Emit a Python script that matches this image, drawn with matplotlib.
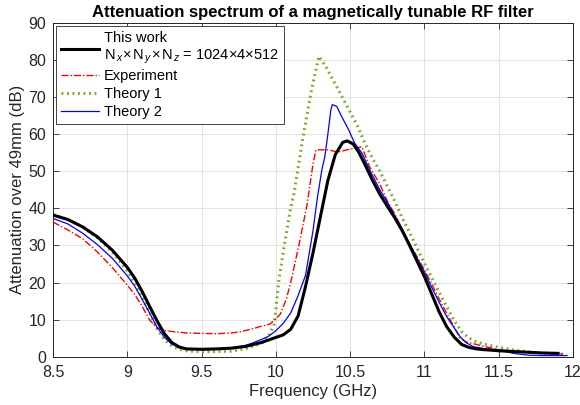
import matplotlib
matplotlib.use("Agg")
import matplotlib.pyplot as plt

plt.rcParams['font.family'] = ['Liberation Sans', 'DejaVu Sans']
plt.rcParams['mathtext.fontset'] = 'custom'
plt.rcParams['mathtext.rm'] = 'Liberation Sans'
plt.rcParams['mathtext.it'] = 'Liberation Sans:italic'

# ---- data ----
f_work = [8.50, 8.60, 8.70, 8.80, 8.90, 9.00, 9.05, 9.10, 9.15, 9.20, 9.25, 9.30, 9.35, 9.40,
          9.50, 9.60, 9.70, 9.80, 9.90, 9.95, 10.00, 10.05, 10.10, 10.15, 10.20, 10.25, 10.30,
          10.35, 10.40, 10.45, 10.48, 10.52, 10.56, 10.60, 10.65, 10.70, 10.75, 10.80, 10.85,
          10.90, 10.95, 11.00, 11.05, 11.10, 11.15, 11.20, 11.25, 11.30, 11.35, 11.40, 11.50,
          11.60, 11.70, 11.80, 11.90]
a_work = [38.2, 37.0, 35.0, 32.3, 28.7, 24.1, 21.2, 17.6, 13.6, 9.7, 6.2, 3.8, 2.6, 2.1,
          2.0, 2.1, 2.3, 2.8, 3.8, 4.5, 5.2, 5.9, 7.4, 11.0, 19.0, 28.0, 37.8,
          47.5, 54.5, 57.8, 58.2, 57.4, 55.0, 51.8, 47.6, 43.8, 40.6, 37.5, 34.0,
          30.0, 25.8, 21.6, 16.8, 12.0, 8.1, 5.3, 3.3, 2.5, 2.1, 1.9, 1.6,
          1.4, 1.2, 1.0, 0.9]

f_exp = [8.50, 8.60, 8.70, 8.80, 8.90, 9.00, 9.05, 9.10, 9.15, 9.20, 9.25, 9.30, 9.40, 9.50,
         9.60, 9.70, 9.76, 9.85, 9.90, 9.96, 10.00, 10.03, 10.07, 10.10, 10.13, 10.16, 10.21,
         10.25, 10.27, 10.35, 10.42, 10.50, 10.58, 10.63, 10.70, 10.75, 10.80, 10.85, 10.90,
         10.95, 11.00, 11.05, 11.10, 11.15, 11.20, 11.24, 11.28, 11.33, 11.40, 11.50, 11.60,
         11.70, 11.80, 11.93]
a_exp = [36.3, 34.2, 31.8, 28.2, 24.0, 19.3, 16.8, 13.6, 9.9, 7.8, 7.1, 6.8, 6.4, 6.3,
         6.2, 6.4, 6.7, 7.6, 8.2, 8.8, 10.2, 11.5, 15.5, 20.0, 25.5, 31.0, 41.0,
         52.0, 55.8, 55.8, 55.2, 56.0, 56.6, 51.3, 46.5, 42.0, 38.5, 34.5, 30.5,
         27.0, 23.4, 19.5, 15.5, 11.7, 8.0, 5.0, 4.0, 3.5, 2.8, 1.9, 1.4,
         1.1, 0.9, 0.7]

f_th1 = [8.50, 8.60, 8.70, 8.80, 8.90, 9.00, 9.05, 9.10, 9.15, 9.20, 9.25, 9.30, 9.35, 9.40,
         9.50, 9.60, 9.70, 9.80, 9.90, 9.95, 9.99, 10.02, 10.055, 10.10, 10.12, 10.18, 10.24,
         10.29, 10.34, 10.40, 10.45, 10.50, 10.55, 10.60, 10.65, 10.70, 10.75, 10.80, 10.85,
         10.90, 10.95, 11.00, 11.05, 11.10, 11.15, 11.20, 11.25, 11.30, 11.35, 11.40, 11.50,
         11.60, 11.70, 11.80, 11.90, 11.96]
a_th1 = [38.4, 37.0, 35.0, 32.0, 28.2, 23.1, 20.0, 16.0, 11.8, 7.5, 4.6, 2.9, 2.0, 1.6,
         1.3, 1.4, 1.5, 2.2, 3.5, 5.4, 8.9, 20.5, 29.5, 40.3, 43.5, 58.5, 72.0,
         81.0, 78.0, 73.5, 69.8, 66.0, 62.2, 57.5, 53.5, 50.0, 46.0, 42.0, 37.5,
         33.5, 29.3, 25.2, 21.2, 17.3, 13.5, 9.8, 6.8, 5.0, 4.0, 3.4, 2.5,
         1.8, 1.3, 0.9, 0.8, 0.6]

f_th2 = [8.50, 8.60, 8.70, 8.80, 8.90, 9.00, 9.05, 9.10, 9.15, 9.20, 9.25, 9.30, 9.35, 9.40,
         9.50, 9.60, 9.70, 9.80, 9.85, 9.90, 9.95, 10.00, 10.05, 10.10, 10.15, 10.20, 10.25,
         10.28, 10.31, 10.33, 10.35, 10.37, 10.38, 10.41, 10.44, 10.49, 10.53, 10.58, 10.63,
         10.70, 10.76, 10.80, 10.85, 10.90, 10.95, 11.00, 11.05, 11.10, 11.15, 11.20, 11.24,
         11.28, 11.33, 11.40, 11.50, 11.60, 11.70, 11.80, 11.96]
a_th2 = [37.3, 35.8, 33.3, 30.2, 26.5, 21.8, 19.0, 15.5, 11.8, 8.0, 5.2, 3.4, 2.5, 2.1,
         1.9, 2.0, 2.3, 3.1, 3.8, 4.6, 5.5, 7.0, 9.0, 11.8, 16.5, 22.0, 34.0,
         43.0, 50.5, 54.0, 60.0, 66.5, 68.0, 67.5, 65.0, 61.2, 57.6, 54.9, 50.5,
         45.0, 41.0, 38.0, 34.5, 30.5, 26.6, 22.9, 18.6, 14.6, 10.8, 7.8, 5.4,
         3.8, 2.7, 2.2, 1.8, 0.9, 0.4, 0.3, 0.3]

xticks = [8.5, 9, 9.5, 10, 10.5, 11, 11.5, 12]
xticklabels = ['8.5', '9', '9.5', '10', '10.5', '11', '11.5', '12']
yticks = [0, 10, 20, 30, 40, 50, 60, 70, 80, 90]

labels = ['This work\n$\\mathrm{N}_{\\,x}$\u200a\u00d7\u200a$\\mathrm{N}_{\\,y}$\u200a\u00d7\u200a$\\mathrm{N}_{\\,z}$ = 1024\u00d74\u00d7512',
          'Experiment', 'Theory 1', 'Theory 2']

# ---- figure ----
fig = plt.figure(figsize=(5.8, 4.05), dpi=100)
ax = fig.add_axes([53/580, 1 - 356.7/405, 520/580, 333.7/405])

ax.plot(f_work, a_work, color='black', lw=2.2, label=labels[0], zorder=4)
ax.plot(f_exp, a_exp, color='#FF0000', lw=1.0, ls=(0, (5, 1.5, 1, 1.5)), label=labels[1], zorder=3)
ax.plot(f_th1, a_th1, color='#77AC30', lw=2.2, ls=(0, (0.6, 1.2)), label=labels[2], zorder=2)
ax.plot(f_th2, a_th2, color='#0000FF', lw=0.9, label=labels[3], zorder=3)

ax.set_xlim(8.5, 12)
ax.set_ylim(0, 90)
ax.set_xticks(xticks)
ax.set_xticklabels(xticklabels)
ax.set_yticks(yticks)
ax.grid(True, color='#E3E3E3', lw=0.7)
ax.set_axisbelow(True)
ax.tick_params(direction='in', length=4, width=0.6, top=True, right=True,
               labelsize=11.5, colors='#262626')
ax.tick_params(axis='x', pad=6)
ax.tick_params(axis='y', pad=5)
for s in ax.spines.values():
    s.set_color('#262626')
    s.set_linewidth(0.7)

ax.set_xlabel('Frequency (GHz)', fontsize=12, color='#262626', labelpad=3)
ax.set_ylabel('Attenuation over 49mm (dB)', fontsize=12, color='#262626', labelpad=2)
ax.set_title('Attenuation spectrum of a magnetically tunable RF filter',
             fontsize=12, fontweight='bold', pad=4)

leg = ax.legend(loc='upper left', fontsize=10.5, frameon=True, fancybox=False,
                edgecolor='#262626', framealpha=1, handlelength=2.6,
                handletextpad=0.35, labelspacing=0.25, borderpad=0.35,
                borderaxespad=0.2)
leg.get_frame().set_linewidth(0.6)

fig.savefig('out.png', dpi=100)
